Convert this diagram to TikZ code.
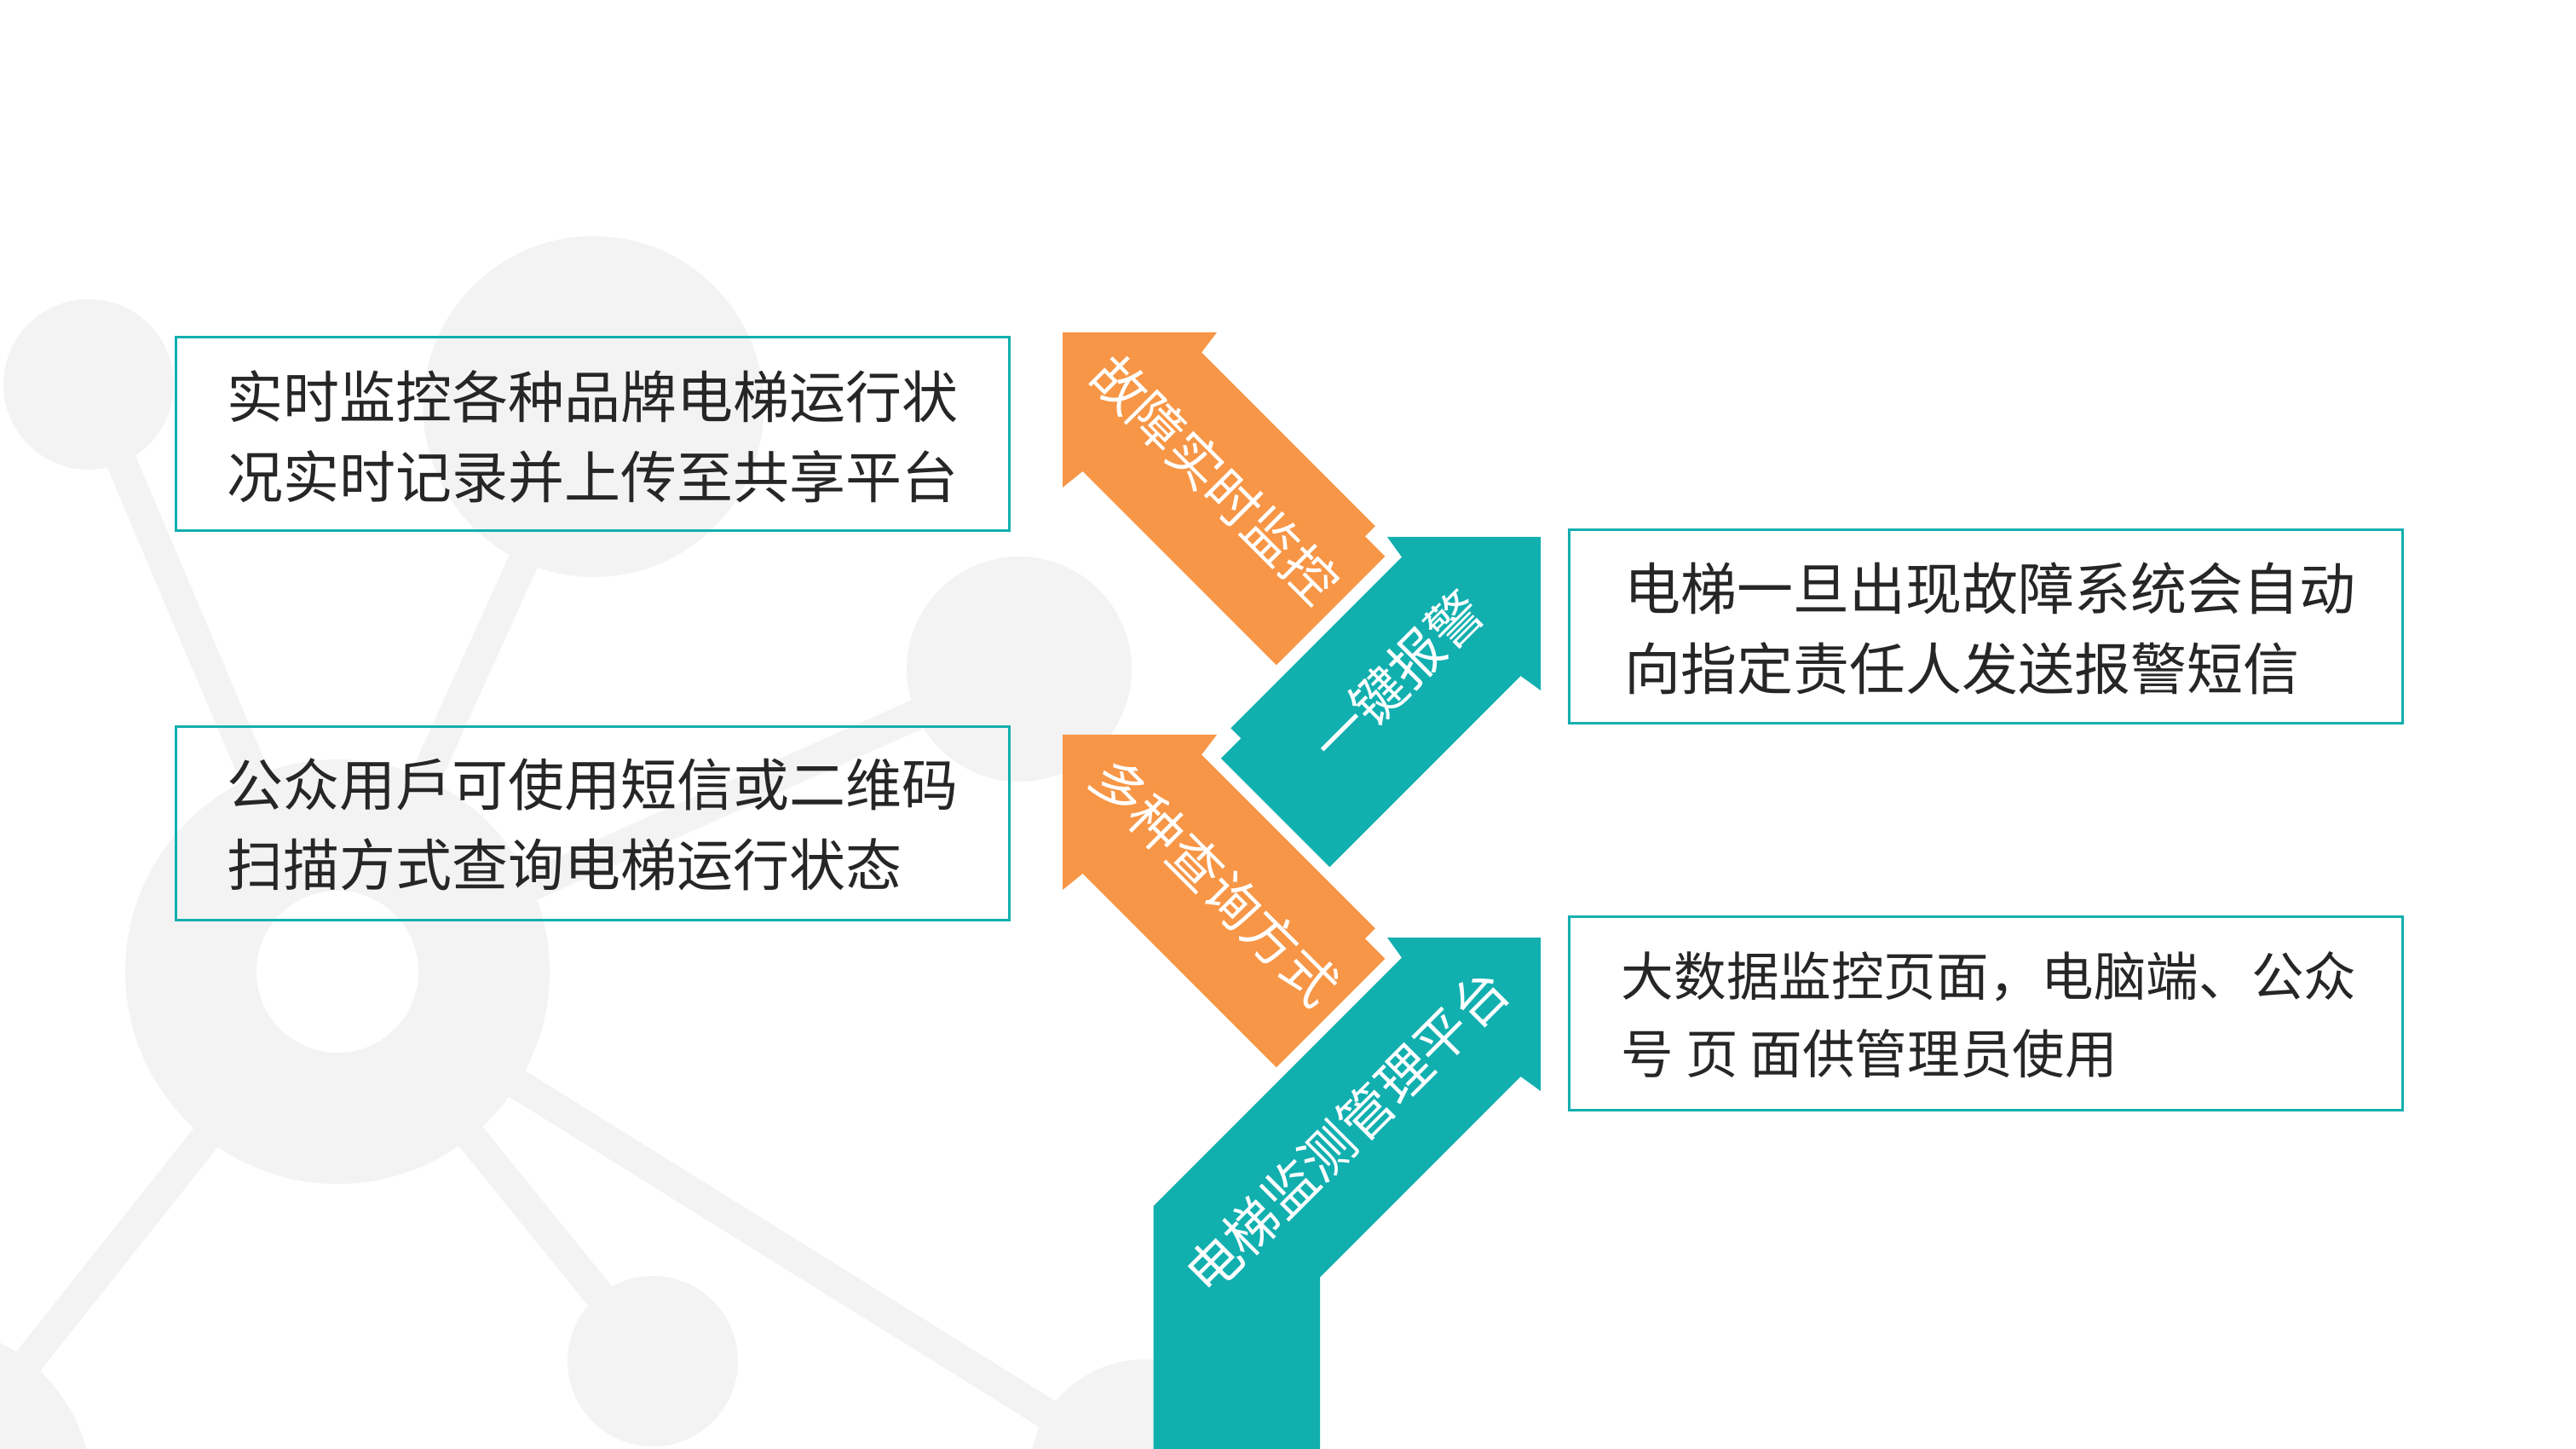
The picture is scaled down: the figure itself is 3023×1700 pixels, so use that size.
\documentclass[tikz,border=0pt]{standalone}
\usepackage{fontspec}
\newfontfamily\cjk{Noto Sans CJK SC}
\definecolor{bggray}{HTML}{F3F3F3}
\definecolor{orng}{HTML}{F79646}
\definecolor{tealc}{HTML}{12AFAF}
\definecolor{txtc}{HTML}{262626}
\begin{document}
\begin{tikzpicture}[x=0.25pt,y=-0.25pt,
  bgline/.style={draw=bggray,line width=9pt},
  infobox/.style={draw=tealc,line width=0.75pt,minimum width=244.5pt,minimum height=56.75pt,inner sep=0pt,anchor=north west},
  boxtext/.style={font=\cjk\fontsize{16.5}{23.5}\selectfont,text=txtc,align=left,inner sep=0pt,anchor=west},
  boxtextb/.style={font=\cjk\fontsize{15.4}{22.75}\selectfont,text=txtc,align=left,inner sep=0pt,anchor=west},
  arrowlabel/.style={font=\cjk\fontsize{15.75}{18}\selectfont,text=white,inner sep=0pt}]
\useasboundingbox (0,0) rectangle (3023,1700);
% background molecule
\begin{scope}
\clip (0,0) rectangle (3023,1700);
\coordinate (cA) at (104,451);
\coordinate (cB) at (696.5,477);
\coordinate (cC) at (1196,785);
\coordinate (cD) at (396,1140);
\coordinate (cE) at (766,1597);
\coordinate (cF) at (-89,1751);
\coordinate (cG) at (1343,1730);
\draw[bgline] (cA) -- (cD);
\draw[bgline] (cB) -- (cD);
\draw[bgline] (cC) -- (cD);
\draw[bgline] (cE) -- (cD);
\draw[bgline] (cF) -- (cD);
\draw[bgline] (cG) -- (cD);
\fill[bggray] (cA) circle[radius=25pt];
\fill[bggray] (cB) circle[radius=50pt];
\fill[bggray] (cC) circle[radius=33pt];
\fill[bggray] (cD) circle[radius=62.25pt];
\fill[bggray] (cE) circle[radius=25pt];
\fill[bggray] (cF) circle[radius=49.25pt];
\fill[bggray] (cG) circle[radius=33.75pt];
\fill[white] (cD) circle[radius=23.75pt];
\end{scope}
% info boxes
\node[infobox] (box1) at (205,394) {};
\node[infobox] (box2) at (205,851) {};
\node[infobox] (box3) at (1840,620) {};
\node[infobox] (box4) at (1840,1074) {};
\node[boxtext] (t1) at (266,512) {实时监控各种品牌电梯运行状\\况实时记录并上传至共享平台};
\node[boxtext] (t2) at (266,967.5) {公众用戶可使用短信或二维码\\扫描方式查询电梯运行状态};
\node[boxtext] (t3) at (1906,737) {电梯一旦出现故障系统会自动\\向指定责任人发送报警短信};
\node[boxtextb] (t4) at (1902,1190.5) {大数据监控页面，电脑端、公众\\号 页 面供管理员使用};
% arrows
\fill[orng] (1247,390) -- (1428,390) -- (1410,413.5) -- (1613.75,617.25) -- (1601.75,629.25) -- (1625.25,652.75) -- (1497.75,780.25) -- (1270.5,553) -- (1247,572) -- cycle;
\fill[orng] (1247,862) -- (1428,862) -- (1410,885.5) -- (1613.75,1089.25) -- (1601.75,1101.25) -- (1625.25,1124.75) -- (1497.75,1252.25) -- (1270.5,1025) -- (1247,1044) -- cycle;
\fill[tealc] (1808,630) -- (1628,630) -- (1645,653.5) -- (1444.25,854.25) -- (1456.25,866.25) -- (1432.75,889.75) -- (1560.25,1017.25) -- (1784.5,793) -- (1808,810) -- cycle;
\fill[tealc] (1808,1100) -- (1628,1100) -- (1645,1123.5) -- (1353.5,1415) -- (1353.5,1700) -- (1549,1700) -- (1549,1498.5) -- (1784.5,1263) -- (1808,1280) -- cycle;
\node[arrowlabel,rotate=-45] (l1) at (1426,562) {故障实时监控};
\node[arrowlabel,rotate=-45] (l2) at (1426,1034) {多种查询方式};
\node[arrowlabel,rotate=45] (l3) at (1640,794) {一键报警};
\node[arrowlabel,rotate=45] (l4) at (1580.5,1327.5) {电梯监测管理平台};
\end{tikzpicture}
\end{document}
